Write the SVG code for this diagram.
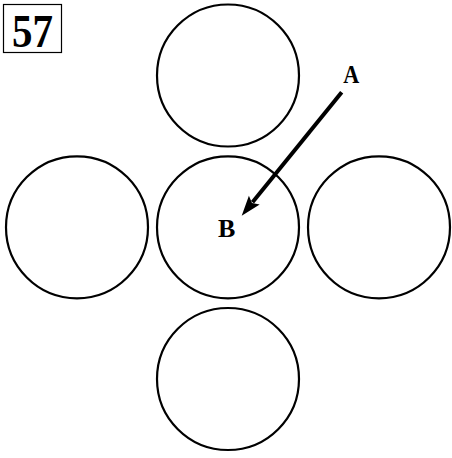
<svg xmlns="http://www.w3.org/2000/svg" width="452" height="458" viewBox="0 0 452 458">
<style>
.c{fill:none;stroke:#000;stroke-width:2.2}
.t{font-family:"Liberation Serif","Times New Roman",serif;font-weight:bold;fill:#000}
</style>
<rect width="452" height="458" fill="#fff"/>
<g id="label57">
<rect x="3.5" y="4.5" width="58" height="48" fill="#fff" stroke="#000" stroke-width="1.2"/>
<text class="t" x="32.5" y="47" font-size="46" text-anchor="middle" textLength="41" lengthAdjust="spacingAndGlyphs">57</text>
</g>
<g id="top"><circle class="c" cx="228" cy="75.5" r="71"/></g>
<g id="left"><circle class="c" cx="77" cy="227.3" r="71"/></g>
<g id="center"><circle class="c" cx="228" cy="227.3" r="71"/></g>
<g id="right"><circle class="c" cx="379" cy="227.3" r="71"/></g>
<g id="bottom"><circle class="c" cx="228" cy="379" r="71"/></g>
<g id="A"><text class="t" x="351.3" y="83.3" font-size="26" text-anchor="middle" textLength="16" lengthAdjust="spacingAndGlyphs">A</text></g>
<g id="B"><text class="t" x="226.7" y="236.7" font-size="26" text-anchor="middle">B</text></g>
<g id="connectors">
<line x1="341.7" y1="92.3" x2="252.5" y2="202.3" stroke="#000" stroke-width="4"/>
<polygon points="241.7,215.7 248.9,195.8 252,203 259.7,204.6" fill="#000"/>
</g>
</svg>
